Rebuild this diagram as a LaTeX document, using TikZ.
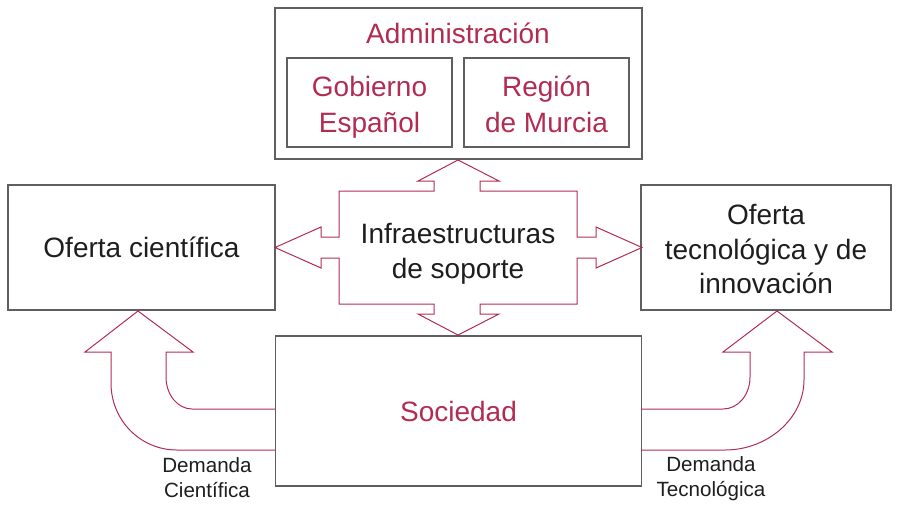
\documentclass[tikz,border=0pt]{standalone}
\usepackage{fontspec}
\setmainfont{Liberation Sans}
\definecolor{crimson}{RGB}{178,44,82}
\definecolor{boxgray}{RGB}{95,95,95}
\definecolor{ink}{RGB}{30,30,30}
\begin{document}
\begin{tikzpicture}[x=0.5pt,y=-0.5pt,
  box/.style={draw=boxgray,line width=0.75pt,inner sep=0pt},
  big/.style={font=\fontsize{14}{18}\selectfont,align=center},
  small/.style={font=\fontsize{10.3}{12.3}\selectfont,align=center,text=ink},
  blockarrow/.style={draw=crimson,line width=0.5pt,line join=miter}]
  \useasboundingbox (0,0) rectangle (899,531);
  \node [box,minimum width=183.5pt,minimum height=75.5pt] (admin) at (458.5,83.5) {};
  \node [big,text=crimson] (admintext) at (458,33) {Administración};
  \node [box,minimum width=82.5pt,minimum height=44.5pt] (gobierno) at (369.5,102.5) {};
  \node [big,text=crimson] (gobiernotext) at (369.5,107) {Gobierno\\Español};
  \node [box,minimum width=82.5pt,minimum height=44.5pt] (region) at (546.5,102.5) {};
  \node [big,text=crimson] (regiontext) at (546.5,107) {Región\\de Murcia\vphantom{p}};
  \node [box,big,text=ink,minimum width=133.5pt,minimum height=62.5pt] (cientifica) at (141.5,247.5) {Oferta científica};
  \node [box,minimum width=125pt,minimum height=62.5pt] (tecnologica) at (766,247.5) {};
  \node [big,font=\fontsize{14}{17.3}\selectfont,text=ink] (tecnologicatext) at (766,249) {Oferta\\tecnológica y de\\innovación};
  \node [box,big,text=crimson,minimum width=183pt,minimum height=75pt] (sociedad) at (458.5,411) {Sociedad};
  \draw [blockarrow] (458,160) -- (499,181) -- (480,181) -- (480,191) -- (577,191) -- (577,237) -- (596,237) -- (596,227)
    -- (642,247.5) -- (596,268) -- (596,258) -- (577,258) -- (577,304) -- (480,304) -- (480,314) -- (499,314)
    -- (458,335) -- (418,314) -- (434,314) -- (434,304) -- (339,304) -- (339,258) -- (321,258) -- (321,268)
    -- (275,247.5) -- (321,227) -- (321,237) -- (339,237) -- (339,191) -- (434,191) -- (434,181) -- (418,181) -- cycle;
  \node [big,font=\fontsize{14}{17.5}\selectfont,text=ink] (infra) at (458,253.5) {Infraestructuras\\de soporte};
  \draw [blockarrow] (275,409) -- (192,409) .. controls (178,409) and (166,395) .. (166,377) -- (166,352) -- (193,352)
    -- (138,311) -- (85,352) -- (111,352) -- (111,383) .. controls (111,420) and (140,450) .. (177,450) -- (275,450);
  \draw [blockarrow] (641,409) -- (723,409) .. controls (738,409) and (750,395) .. (750,377) -- (750,352) -- (723,352)
    -- (777,311) -- (832,352) -- (804,352) -- (804,380) .. controls (804,418) and (768,450) .. (725,450) -- (641,450);
  \node [small] (demcien) at (207,477.5) {Demanda\\Científica};
  \node [small] (demtec) at (711,478.5) {Demanda\\Tecnológica};
\end{tikzpicture}
\end{document}
